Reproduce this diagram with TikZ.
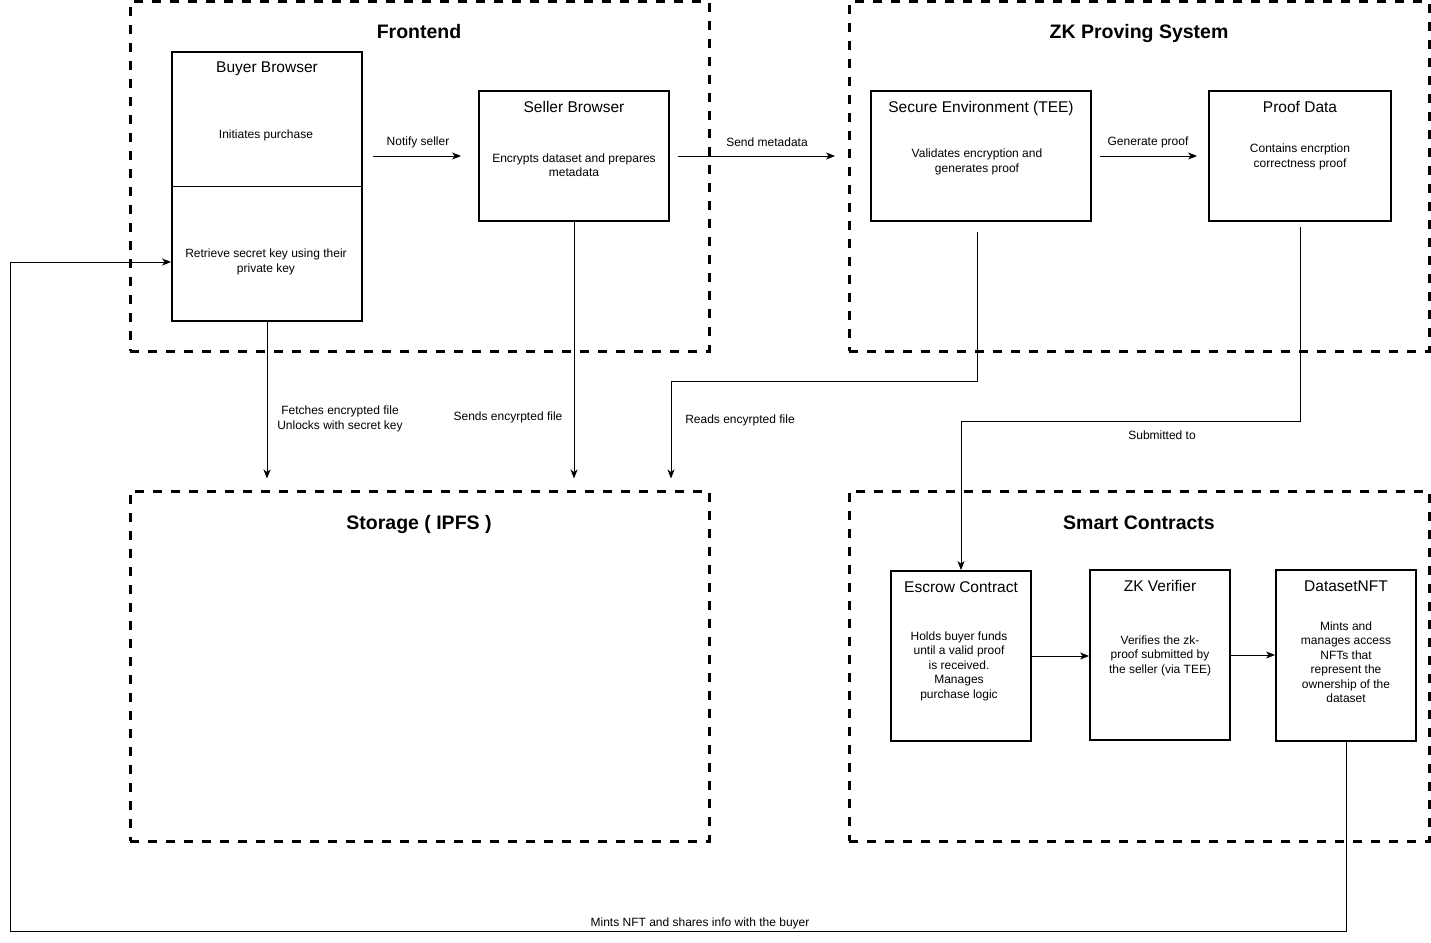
\documentclass[tikz,border=0pt]{standalone}
\usepackage{fontspec}
\setmainfont{Liberation Sans}
\usetikzlibrary{arrows.meta,calc}
\begin{document}
\begin{tikzpicture}[x=1pt,y=-1pt,
  grp/.style={draw=black,line width=3pt,dash pattern=on 9pt off 9pt,inner sep=0pt},
  grptitle/.style={font=\fontsize{19.5}{22}\selectfont\bfseries,inner sep=0pt,anchor=base},
  box/.style={draw=black,line width=1.8pt,inner sep=0pt},
  boxtitle/.style={font=\fontsize{15.5}{18}\selectfont,inner sep=0pt,anchor=base},
  body/.style={font=\fontsize{12}{14.5}\selectfont,align=center,inner sep=0pt},
  lbl/.style={font=\fontsize{12}{14.5}\selectfont,align=center,inner sep=0pt},
  conn/.style={draw=black,line width=1pt},
  arr/.style={conn,-{Stealth[length=9pt,width=7pt,inset=2.5pt]}}]
\path[use as bounding box,fill=white] (0,0) rectangle (1431,942);

% group frames
\node[grp,minimum width=579pt,minimum height=349pt] (frontend) at (419.5,176.5) {};
\node[grp,minimum width=580pt,minimum height=349pt] (zkps) at (1139,176.5) {};
\node[grp,minimum width=579pt,minimum height=350pt] (storage) at (419.5,666) {};
\node[grp,minimum width=580pt,minimum height=350pt] (contracts) at (1139,666) {};
\node[grptitle] (tfront) at (419,39) {Frontend};
\node[grptitle] (tzk) at (1139,39) {ZK Proving System};
\node[grptitle] (tstore) at (419,529) {Storage ( IPFS )};
\node[grptitle] (tsc) at (1139,529) {Smart Contracts};

% frontend components
\node[box,minimum width=190pt,minimum height=269pt] (buyer) at (267,186.5) {};
\draw[line width=1pt] (172,186) -- (362,186);
\node[boxtitle] (tbuyer) at (267,73) {Buyer Browser};
\node[body] (bbuy1) at (266,135) {Initiates purchase};
\node[body] (bbuy2) at (266,262) {Retrieve secret key using their\\private key};

\node[box,minimum width=190pt,minimum height=130pt] (seller) at (574,156) {};
\node[boxtitle] (tseller) at (574,112.5) {Seller Browser};
\node[body] (bseller) at (574,165) {Encrypts dataset and prepares\\metadata};

% proving system components
\node[box,minimum width=220pt,minimum height=130pt] (tee) at (981,156) {};
\node[boxtitle] (ttee) at (981,112.5) {Secure Environment (TEE)};
\node[body] (btee) at (977,162) {Validates encryption and\\generates proof};

\node[box,minimum width=182pt,minimum height=130pt] (proof) at (1300,156) {};
\node[boxtitle] (tproof) at (1300,112.5) {Proof Data};
\node[body] (bproof) at (1300,157) {Contains encrption\\correctness proof};

% contract components
\node[box,minimum width=140pt,minimum height=170pt] (escrow) at (961,656) {};
\node[boxtitle] (tescrow) at (961,592.5) {Escrow Contract};
\node[body] (bescrow) at (959,666) {Holds buyer funds\\until a valid proof\\is received.\\Manages\\purchase logic};

\node[box,minimum width=140pt,minimum height=170pt] (verifier) at (1160,655) {};
\node[boxtitle] (tverifier) at (1160,591.5) {ZK Verifier};
\node[body] (bverifier) at (1160,655.5) {Verifies the zk-\\proof submitted by\\the seller (via TEE)};

\node[box,minimum width=140pt,minimum height=171pt] (nft) at (1346,655.5) {};
\node[boxtitle] (tnft) at (1346,591.5) {DatasetNFT};
\node[body] (bnft) at (1346,662) {Mints and\\manages access\\NFTs that\\represent the\\ownership of the\\dataset};

% connectors
\draw[arr,shorten <=10pt,shorten >=17pt] (buyer.east |- seller) -- (seller.west);
\node[lbl] (lnotify) at (418,142) {Notify seller};

\draw[arr,shorten <=8pt,shorten >=35pt] (seller.east) -- (tee.west);
\node[lbl] (lsend) at (767,142) {Send metadata};

\draw[arr,shorten <=8pt,shorten >=11pt] (tee.east) -- (proof.west);
\node[lbl] (lgen) at (1148,142) {Generate proof};

\draw[arr,shorten >=11pt] (buyer.south) -- (buyer.south |- storage.north);
\node[lbl] (lfetch) at (340,419) {Fetches encrypted file\\Unlocks with secret key};

\draw[arr,shorten >=11pt] (seller.south) -- (seller.south |- storage.north);
\node[lbl] (lsends) at (508,417) {Sends encyrpted file};

\coordinate (teeout) at (977,232);
\coordinate (teebend) at (977,381);
\coordinate (teeleft) at (671,381);
\draw[arr,shorten >=11pt] (teeout) -- (teebend) -- (teeleft) -- (teeleft |- storage.north);
\node[lbl] (lreads) at (740,420) {Reads encyrpted file};

\coordinate (proofout) at (1300,227);
\draw[arr] (proofout) -- (1300,421) -- (escrow.north |- 0,421) -- (escrow.north);
\node[lbl] (lsub) at (1162,435) {Submitted to};

\draw[arr] (escrow.east) -- (verifier.west |- escrow.east);
\draw[arr] (verifier.east) -- (nft.west |- verifier.east);

\coordinate (nftdown) at (1346,931);
\coordinate (leftdown) at (10,931);
\coordinate (leftup) at (10,262);
\draw[arr] (nft.south) -- (nftdown) -- (leftdown) -- (leftup) -- (buyer.west |- leftup);
\node[lbl] (lmint) at (700,923) {Mints NFT and shares info with the buyer};
\end{tikzpicture}
\end{document}
